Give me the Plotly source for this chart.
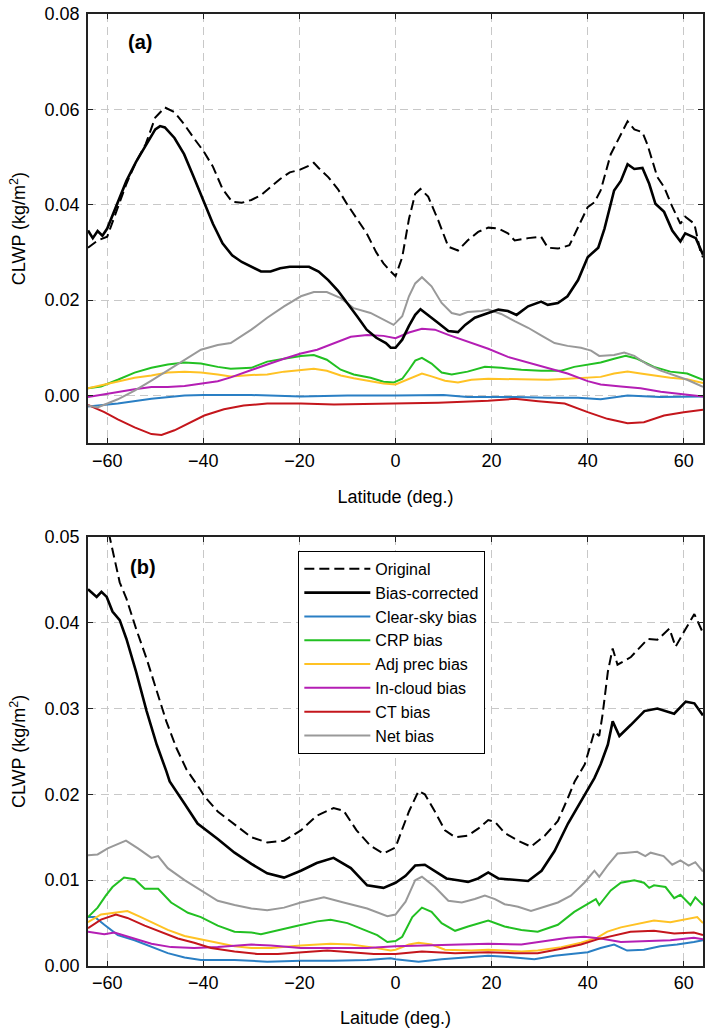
import plotly.graph_objects as go
from plotly.subplots import make_subplots

# ---------------- Panel (a) data: [latitude, CLWP] ----------------
a_original = [(-64,0.031),(-62,0.0325),(-60,0.0333),(-58,0.0388),(-56,0.0444),(-54,0.049),(-52,0.0527),(-50,0.0583),
    (-48,0.0604),(-46,0.0594),(-44,0.0569),(-42,0.054),(-40,0.0513),(-38,0.048),(-36,0.0433),(-34,0.0406),(-32,0.0404),
    (-30,0.041),(-28,0.042),(-26,0.0437),(-24,0.0454),(-22,0.0468),(-20,0.0473),(-18,0.0482),(-17,0.0488),(-16,0.0477),
    (-14,0.0458),(-12,0.0433),(-10,0.040),(-8,0.037),(-6,0.034),(-4,0.030),(-2.5,0.0277),(-1,0.026),(0,0.025),(1.4,0.029),
    (2.8,0.037),(4.1,0.0423),(5.2,0.0433),(6.8,0.0417),(8.9,0.0367),(11,0.0312),(13,0.0304),(15,0.0325),(17.2,0.0343),
    (19.3,0.0352),(21.4,0.035),(23.4,0.034),(24.8,0.0325),(27.6,0.033),(30.3,0.0333),(31.7,0.031),(33.8,0.0308),
    (36.2,0.0315),(38,0.0354),(40,0.0395),(41.4,0.0405),(42.7,0.043),(44.8,0.0506),(46.2,0.0533),(48.3,0.0575),
    (49.7,0.0558),(51.4,0.0552),(52.4,0.0527),(54.5,0.0458),(55.9,0.0437),(57.6,0.0396),(59.3,0.036),(60.3,0.0375),
    (62.2,0.036),(63.5,0.030),(64,0.029)]
a_corrected = [(-64,0.0346),(-63,0.033),(-62,0.0345),(-61,0.0335),(-60,0.035),(-58,0.040),(-56,0.045),(-54,0.049),
    (-52,0.0525),(-50,0.0558),(-49,0.0565),(-48,0.0562),(-46,0.054),(-44,0.0506),(-42,0.0458),(-40,0.041),(-38,0.036),
    (-36,0.0319),(-34,0.0294),(-32,0.028),(-30,0.027),(-28,0.026),(-26,0.026),(-24,0.0267),(-22,0.027),(-20,0.027),
    (-18,0.027),(-16,0.026),(-14,0.0242),(-12,0.022),(-10,0.0194),(-8,0.0166),(-6,0.0138),(-4,0.0121),(-2,0.011),
    (-1,0.010),(0,0.010),(1.4,0.0117),(2.8,0.0146),(4.1,0.0169),(5.2,0.0181),(6.8,0.0169),(8.9,0.0152),(11,0.0135),
    (13,0.0133),(14.5,0.0148),(16.5,0.0163),(19.3,0.0173),(21.4,0.018),(23.4,0.0177),(25.2,0.0169),(27.6,0.0187),
    (30.3,0.0197),(31.7,0.019),(33.8,0.0194),(35.8,0.0208),(38,0.0242),(40,0.029),(42.2,0.031),(43.5,0.035),
    (44.8,0.040),(45.5,0.043),(46.9,0.045),(48.3,0.0485),(49.7,0.0475),(51.4,0.0477),(52.8,0.0444),(54.1,0.0402),
    (55.9,0.0385),(57.6,0.0346),(59.3,0.0323),(60.3,0.034),(62.5,0.033),(64,0.0295)]
a_clear = [(-64,-0.0023),(-57.8,-0.0017),(-50.8,-0.0007),(-43.9,0.0),(-40,0.0001),(-30,0.0001),(-19.7,-0.0002),
    (-10,0.0),(0,0.0),(10,0.0001),(15,-0.0003),(25,-0.0003),(31.7,-0.0005),(38,-0.0005),(42.7,-0.0008),(48.3,0.0),
    (55,-0.0003),(64,-0.0002)]
a_crp = [(-64,0.0015),(-61.3,0.0019),(-57.8,0.0033),(-54.3,0.0048),(-50.8,0.0058),(-47.4,0.0065),(-43.9,0.0069),
    (-40.5,0.0067),(-37,0.006),(-34.3,0.0056),(-30,0.0058),(-26.7,0.0071),(-23.2,0.0077),(-19.7,0.0083),(-17,0.0085),
    (-14.3,0.0075),(-11.4,0.0054),(-8.7,0.0044),(-5.2,0.0037),(-2.5,0.0029),(-0.4,0.0027),(1.4,0.0035),(2.8,0.0054),
    (4.1,0.0073),(5.5,0.0079),(7.5,0.0067),(9.6,0.0048),(11.7,0.0044),(15,0.005),(18.6,0.006),(22,0.0058),
    (26.2,0.0054),(30.3,0.0052),(34.5,0.0052),(37.2,0.006),(40,0.0065),(42.7,0.0069),(45.5,0.0077),(47.9,0.0083),
    (50.3,0.0077),(53.8,0.006),(57.2,0.005),(60.7,0.0046),(64,0.0033)]
a_adjprec = [(-64,0.0015),(-57.8,0.0029),(-54.3,0.0037),(-50.8,0.0042),(-47.4,0.0048),(-43.9,0.005),(-40.5,0.0048),
    (-37,0.0044),(-34.3,0.004),(-30,0.0043),(-26.7,0.0044),(-23.2,0.005),(-19.7,0.0054),(-17,0.0056),(-14.3,0.0052),
    (-11.4,0.0042),(-8.7,0.0036),(-5.2,0.003),(-2.5,0.0025),(0,0.0023),(2.8,0.0035),(5.5,0.0046),(7.5,0.004),
    (10.3,0.0031),(13,0.0027),(15.8,0.0033),(19.3,0.0035),(23.4,0.0034),(27.6,0.0033),(31.7,0.0033),(35.8,0.0035),
    (40,0.0037),(42.7,0.0039),(45.5,0.0046),(48.3,0.005),(51,0.0046),(53.8,0.0042),(57.2,0.0037),(60.7,0.0034),
    (64,0.0026)]
a_incloud = [(-64,-0.0003),(-57.8,0.0008),(-54.3,0.0013),(-50.8,0.0018),(-47.4,0.0018),(-43.9,0.002),(-40.5,0.0025),
    (-37,0.003),(-34.3,0.0038),(-30,0.0054),(-26.7,0.0065),(-23.2,0.0077),(-19.7,0.0088),(-16.3,0.0096),(-12.8,0.011),
    (-9.3,0.0123),(-5.9,0.0127),(-2.5,0.0125),(0,0.012),(2.8,0.0132),(5.5,0.014),(8.2,0.0138),(11,0.0127),(15,0.0113),
    (19.3,0.0098),(23.4,0.0081),(27.6,0.0069),(31.7,0.0058),(35.8,0.0046),(40,0.003),(42.7,0.0023),(46.9,0.0019),
    (51,0.0015),(55.2,0.0008),(59.3,0.0004),(64,-0.0002)]
a_ct = [(-64,-0.002),(-60.6,-0.0035),(-57.8,-0.005),(-54.3,-0.0067),(-50.8,-0.0081),(-48.7,-0.0083),(-46,-0.0073),
    (-42.5,-0.0056),(-39.8,-0.0042),(-35.7,-0.0029),(-31.6,-0.0021),(-26.7,-0.0017),(-19.7,-0.0017),(-12.8,-0.0019),
    (-5.9,-0.0018),(0,-0.0017),(8.9,-0.0015),(19.3,-0.0011),(24.8,-0.0007),(29.7,-0.0012),(35.2,-0.0017),(40,-0.0035),
    (44.1,-0.0049),(48.3,-0.0058),(51.7,-0.0056),(55.9,-0.0042),(60,-0.0035),(64,-0.003)]
a_net = [(-64,-0.0021),(-62,-0.0025),(-57.8,-0.0008),(-54.3,0.001),(-50.8,0.0031),(-47.4,0.0052),(-43.9,0.0075),
    (-40.5,0.0096),(-37,0.0106),(-34.3,0.011),(-30,0.0138),(-26.7,0.0163),(-23.2,0.0187),(-19.7,0.0208),(-17,0.0217),
    (-14.3,0.0217),(-11.4,0.0204),(-8.7,0.0183),(-5.2,0.0173),(-2.5,0.0159),(-0.4,0.0148),(1.4,0.0166),(2.8,0.0208),
    (4.1,0.0235),(5.5,0.0248),(7.5,0.0229),(9.6,0.0194),(11.7,0.0173),(13.4,0.0169),(15,0.0175),(17.9,0.0177),
    (19.3,0.018),(22,0.0171),(24.8,0.0156),(27.6,0.0142),(30.3,0.0126),(33.1,0.011),(35.8,0.0104),(38.6,0.01),
    (40.7,0.0094),(42.4,0.0083),(45.5,0.0085),(47.6,0.009),(49.7,0.0083),(52.4,0.0065),(55.2,0.0052),(57.9,0.0042),
    (60.7,0.0033),(64,0.0018)]

# ---------------- Panel (b) data ----------------
b_original = [(-64,0.057),(-62,0.054),(-59.5,0.050),(-57.4,0.0447),(-56,0.0428),(-54,0.0393),(-51.8,0.0358),
    (-49.7,0.032),(-47.7,0.0285),(-45.6,0.0254),(-43.5,0.0229),(-40.8,0.0207),(-39.8,0.0198),(-37,0.018),(-33.5,0.0165),
    (-30,0.015),(-26.7,0.0144),(-23.2,0.0146),(-19.7,0.0158),(-16.4,0.0175),(-12.9,0.0184),(-10.8,0.0181),(-8.1,0.0158),
    (-5.2,0.014),(-2.5,0.0131),(0,0.0138),(1.3,0.0158),(2.8,0.018),(4.8,0.0204),(6.1,0.020),(8.2,0.018),(10.3,0.0158),
    (12.4,0.015),(15.1,0.0152),(17.2,0.016),(19.3,0.017),(20.7,0.0168),(22.7,0.0155),(25.5,0.0146),(28.2,0.0139),
    (31.1,0.0152),(33.8,0.0169),(35.9,0.0196),(37.3,0.0215),(39.4,0.0235),(41.4,0.0273),(42.4,0.0268),(43.1,0.0293),
    (44.2,0.0343),(45.2,0.037),(46.2,0.0351),(49,0.036),(52.5,0.0381),(54.5,0.038),(57,0.0393),(58.3,0.0372),
    (60.1,0.039),(62.2,0.041),(64,0.0388)]
b_corrected = [(-64,0.0439),(-62.2,0.043),(-61.2,0.0436),(-60.1,0.043),(-58.9,0.0413),(-57.4,0.0403),(-56,0.0381),
    (-54,0.0343),(-51.8,0.0297),(-49.7,0.0258),(-47.7,0.0227),(-47,0.0215),(-43.9,0.0189),(-41.2,0.0166),(-37,0.0148),
    (-33.5,0.0132),(-30,0.0119),(-26.7,0.0108),(-23.2,0.0103),(-19.7,0.0111),(-16.4,0.012),(-12.9,0.0126),(-9.3,0.0114),
    (-5.9,0.0094),(-2.5,0.0091),(0,0.0097),(2.1,0.0105),(4.1,0.0117),(6.1,0.0118),(8.2,0.0111),(10.6,0.0102),(13,0.010),
    (15.1,0.0098),(17.2,0.0102),(19.3,0.0109),(21.4,0.0102),(24.8,0.010),(27.6,0.0099),(30.4,0.0111),(33.1,0.0134),
    (35.9,0.0166),(38.6,0.0192),(40.4,0.021),(41.4,0.0219),(42.7,0.0235),(44.2,0.0258),(45.2,0.0285),(46.6,0.0268),
    (49,0.0281),(51.8,0.0297),(54.5,0.030),(58,0.0294),(60.4,0.0308),(62.2,0.0306),(64,0.0292)]
b_clear = [(-64,0.0057),(-62.6,0.0057),(-60.6,0.0048),(-57.8,0.0036),(-54.3,0.003),(-50.8,0.0022),(-47.4,0.0015),
    (-43.9,0.001),(-40.5,0.0007),(-33.5,0.0007),(-26.7,0.0005),(-19.7,0.0006),(-12.9,0.0006),(-5.9,0.0007),(-1,0.0009),
    (0,0.0008),(4.8,0.0005),(9.6,0.0008),(14.4,0.001),(19.3,0.0012),(24.8,0.001),(28.9,0.0008),(33.1,0.0012),
    (37.3,0.0014),(40,0.0016),(42.7,0.0021),(45.5,0.0025),(48.2,0.0018),(51.7,0.0019),(55.1,0.0023),(58.6,0.0025),
    (62.1,0.0028),(64,0.003)]
b_crp = [(-64,0.0057),(-62,0.0068),(-60.3,0.0082),(-58.9,0.0092),(-56.5,0.0103),(-54.3,0.0101),(-52.2,0.009),
    (-49.4,0.009),(-46.7,0.0074),(-43.2,0.0062),(-40.5,0.0057),(-37,0.0047),(-33.5,0.004),(-30,0.0039),(-28,0.0037),
    (-24.5,0.0042),(-20.4,0.0047),(-16.3,0.0052),(-13.5,0.0054),(-10,0.005),(-6.6,0.0042),(-3.8,0.0036),(-1.7,0.0028),
    (0,0.0029),(1.4,0.0034),(3.5,0.0057),(5.5,0.0068),(7.5,0.0063),(9.6,0.005),(12.4,0.0041),(15.1,0.0046),
    (19.3,0.0053),(22.7,0.0046),(26.2,0.0042),(29.6,0.004),(33.8,0.0048),(37.2,0.0063),(40.7,0.0074),(41.7,0.0078),
    (42.4,0.0071),(44.8,0.0088),(46.9,0.0097),(49.7,0.010),(51.7,0.0097),(52.8,0.0091),(53.8,0.0094),(56.2,0.0092),
    (58,0.0079),(59.3,0.0083),(61.4,0.0071),(62.4,0.008),(64,0.0071)]
b_adjprec = [(-64,0.0051),(-61.3,0.006),(-58.5,0.0062),(-55.8,0.0064),(-53,0.0057),(-50.3,0.005),(-47.4,0.0042),
    (-43.9,0.0035),(-40.5,0.0031),(-37,0.0027),(-33.5,0.0023),(-30,0.0021),(-25.9,0.0021),(-19.7,0.0024),(-13.5,0.0026),
    (-9.3,0.0025),(-5.2,0.0022),(-1,0.0018),(0,0.0019),(2.8,0.0025),(4.8,0.0027),(7.5,0.0025),(10.3,0.0019),
    (15.8,0.0018),(19.3,0.0019),(26.2,0.0017),(29.6,0.0018),(34.5,0.0022),(38.6,0.0027),(42,0.0033),(44.1,0.004),
    (46.9,0.0045),(50.3,0.0049),(53.8,0.0053),(57.2,0.0051),(60.7,0.0055),(62.8,0.0057),(64,0.005)]
b_incloud = [(-64,0.004),(-60.6,0.0037),(-58.5,0.0039),(-54.3,0.0032),(-50.8,0.0026),(-46.7,0.0022),(-41.9,0.0021),
    (-37,0.0022),(-30,0.0025),(-25.9,0.0024),(-19.7,0.0021),(-12.9,0.0021),(-5.9,0.0021),(0,0.0023),(5.5,0.0024),
    (12.4,0.0025),(19.3,0.0026),(26.2,0.0025),(31.7,0.003),(35.9,0.0033),(39.3,0.0034),(42.7,0.0032),(46.9,0.0028),
    (51.7,0.0029),(57.2,0.003),(62.1,0.0033),(64,0.0031)]
b_ct = [(-64,0.0044),(-61.3,0.0054),(-58.2,0.006),(-55.8,0.0056),(-52.2,0.0047),(-48.7,0.0039),(-45.3,0.0032),
    (-41.9,0.0027),(-38.4,0.0021),(-33.5,0.0017),(-28.8,0.0014),(-24.5,0.0014),(-19.7,0.0016),(-14.2,0.0018),
    (-9.3,0.0016),(-4.5,0.0014),(0,0.0014),(5.5,0.0017),(12.4,0.0015),(19.3,0.0016),(24.8,0.0015),(29.6,0.0015),
    (34.5,0.002),(38.6,0.0025),(42,0.0031),(45.5,0.0036),(48.9,0.004),(53.8,0.0041),(58,0.0038),(62.1,0.0039),
    (64,0.0036)]
b_net = [(-64,0.0129),(-62,0.013),(-59.9,0.0137),(-57.8,0.0142),(-56.1,0.0146),(-53.6,0.0137),(-50.8,0.0126),
    (-49.4,0.0128),(-47.4,0.0114),(-43.9,0.010),(-40.5,0.0088),(-37,0.0076),(-33.5,0.0071),(-30,0.0067),(-26.7,0.0065),
    (-23.2,0.0068),(-19.7,0.0074),(-14.9,0.008),(-10.8,0.0074),(-5.9,0.0067),(-1.7,0.0058),(0,0.006),(2.1,0.0075),
    (4.1,0.010),(5.5,0.0104),(8.2,0.0092),(11,0.0076),(13.8,0.0074),(16.5,0.0078),(18.6,0.0082),(20.7,0.0078),
    (22.7,0.0072),(25.5,0.0069),(28.2,0.0064),(31,0.0069),(33.8,0.0074),(36.5,0.0082),(39.3,0.0097),(41.4,0.0111),
    (42.4,0.0104),(44.1,0.0117),(46.2,0.0131),(48.2,0.0132),(50.3,0.0133),(52,0.0128),(53.1,0.0132),(55.8,0.0128),
    (57.6,0.0118),(59.3,0.0123),(61,0.0117),(62.4,0.0121),(64,0.011)]

series_names = ["Original", "Bias-corrected", "Clear-sky bias", "CRP bias", "Adj prec bias",
                "In-cloud bias", "CT bias", "Net bias"]
x_ticks = [-60, -40, -20, 0, 20, 40, 60]
a_yticks = [0.00, 0.02, 0.04, 0.06, 0.08]
b_yticks = [0.00, 0.01, 0.02, 0.03, 0.04, 0.05]

panel_a = [a_original, a_corrected, a_clear, a_crp, a_adjprec, a_incloud, a_ct, a_net]
panel_b = [b_original, b_corrected, b_clear, b_crp, b_adjprec, b_incloud, b_ct, b_net]

styles = [
    dict(color="black", width=2, dash="10px,5px"),
    dict(color="black", width=2.6),
    dict(color="#2a7fc4", width=2),
    dict(color="#22c022", width=2),
    dict(color="#ffc224", width=2),
    dict(color="#b41eb4", width=2),
    dict(color="#c4161c", width=2),
    dict(color="#999999", width=2),
]
draw_order = [2, 3, 4, 5, 6, 7, 1, 0]

fig = make_subplots(rows=2, cols=1, vertical_spacing=0.0984)

for row, panel in ((1, panel_a), (2, panel_b)):
    for k in draw_order:
        pts = panel[k]
        fig.add_trace(go.Scatter(
            x=[p[0] for p in pts], y=[p[1] for p in pts], mode="lines",
            name=series_names[k], line=styles[k], legendrank=k + 1,
            showlegend=(row == 2)), row=row, col=1)

font_family = "Liberation Sans, Arial, sans-serif"
axis_common = dict(showline=True, linecolor="#222222", linewidth=1.5, mirror="ticks",
                   ticks="inside", ticklen=5, tickcolor="#222222", tickwidth=1.2,
                   showgrid=True, gridcolor="#c8c8c8", gridwidth=1, griddash="8px,5px",
                   zeroline=False, tickfont=dict(size=18, color="black"))

fig.update_xaxes(axis_common, range=[-64, 64], tickvals=x_ticks)
fig.update_xaxes(title=dict(text="Latitude (deg.)", font=dict(size=18), standoff=21), row=1, col=1)
fig.update_xaxes(title=dict(text="Laitude (deg.)", font=dict(size=18), standoff=19), row=2, col=1)
fig.update_yaxes(axis_common, tickformat=".2f", ticklabelstandoff=3)
fig.update_yaxes(range=[-0.01, 0.08], tickvals=a_yticks, row=1, col=1,
                 title=dict(text="CLWP (kg/m<sup>2</sup>)", font=dict(size=18), standoff=14))
fig.update_yaxes(range=[0, 0.05], tickvals=b_yticks, row=2, col=1,
                 title=dict(text="CLWP (kg/m<sup>2</sup>)", font=dict(size=18), standoff=14))

fig.add_annotation(text="<b>(a)</b>", xref="x domain", yref="y domain", x=0.084, y=0.935,
                   xanchor="center", yanchor="middle",
                   showarrow=False, font=dict(size=20, color="black"), row=1, col=1)
fig.add_annotation(text="<b>(b)</b>", xref="x2 domain", yref="y2 domain", x=0.089, y=0.930,
                   xanchor="center", yanchor="middle",
                   showarrow=False, font=dict(size=20, color="black"), row=2, col=1)

fig.update_layout(
    width=709, height=1034,
    margin=dict(l=88, r=4, t=10, b=68),
    paper_bgcolor="white", plot_bgcolor="white",
    font=dict(family=font_family, size=18, color="black"),
    legend=dict(x=0.342, y=0.436, xanchor="left", yanchor="top",
                bordercolor="black", borderwidth=1, bgcolor="white",
                font=dict(size=16), tracegroupgap=0, itemwidth=66,
                traceorder="normal"),
    showlegend=True,
)

fig.write_html("out.html", config={"displayModeBar": False},
               post_script="document.body.style.margin='0';")
